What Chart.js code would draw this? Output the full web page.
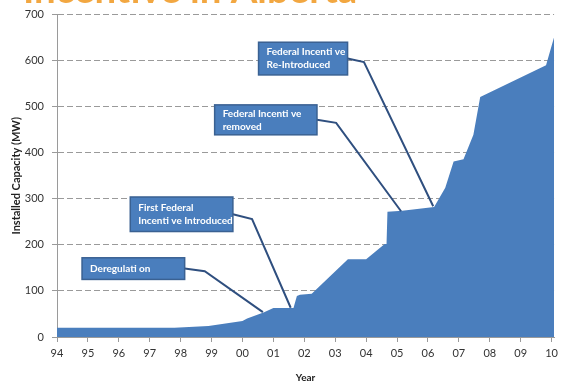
<!DOCTYPE html>
<html>
<head>
<meta charset="utf-8">
<script src="https://cdn.jsdelivr.net/npm/chart.js@4/dist/chart.umd.min.js"></script>
<style>
  html, body { margin: 0; padding: 0; background: #ffffff; }
  #wrap { position: relative; width: 563px; height: 386px; overflow: hidden; }
  canvas { display: block; }
</style>
</head>
<body>
<div id="wrap"><canvas id="chart" width="563" height="386"></canvas></div>
<script>
// Installed wind capacity in Alberta (MW) by year
const years = [1994, 1997.8, 1998.9, 2000.0, 2000.15, 2000.7, 2001.0, 2001.65, 2001.76, 2001.86,
               2002.24, 2003.41, 2004.0, 2004.6, 2004.66, 2004.69, 2005.17, 2006.2, 2006.56,
               2006.83, 2007.15, 2007.47, 2007.69, 2009.82, 2010.08];
const capacityMW = [20, 20, 24, 35, 40, 54, 63, 63, 89, 92,
                    94, 169, 169, 202, 202, 272, 274, 282, 324,
                    381, 386, 439, 521, 590, 651];

const tickYears = [1994, 1995, 1996, 1997, 1998, 1999, 2000, 2001, 2002,
                   2003, 2004, 2005, 2006, 2007, 2008, 2009, 2010];
const tickLabels = ['94', '95', '96', '97', '98', '99', '00', '01', '02',
                    '03', '04', '05', '06', '07', '08', '09', '10'];

const titleText = 'Incentive in Alberta';
const yTitle = 'Installed Capacity (MW)';
const xTitle = 'Year';

// Policy events: text lines, the point on the curve they refer to
const eventLines = [
  ['Deregulati on'],
  ['First Federal', 'Incenti ve Introduced'],
  ['Federal Incenti ve', 'removed'],
  ['Federal Incenti ve', 'Re-Introduced']
];
const eventYears = [2000.66, 2001.56, 2005.13, 2006.17];
const eventValues = [54, 63.5, 273, 284];

// Placement of each callout box (in axis units) and the elbow of its leader line
const calloutLayout = [
  { box: [1994.81, 1998.13, 172, 125], elbow: [1998.78, 143] },
  { box: [1996.37, 1999.69, 304, 229], elbow: [2000.31, 256] },
  { box: [1999.10, 2002.41, 504, 439], elbow: [2003.03, 465] },
  { box: [2000.52, 2003.40, 640, 569], elbow: [2003.93, 597] }
];

const AREA_BLUE = '#4A7EBD';
const FONT = 'Lato, "Open Sans", "DejaVu Sans", sans-serif';

const calloutPlugin = {
  id: 'callouts',
  afterDatasetsDraw(chart) {
    const { ctx, scales: { x, y } } = chart;
    ctx.save();
    calloutLayout.forEach((c, i) => {
      const bx0 = x.getPixelForValue(c.box[0]);
      const bx1 = x.getPixelForValue(c.box[1]);
      const by0 = y.getPixelForValue(c.box[2]);
      const by1 = y.getPixelForValue(c.box[3]);
      const midY = (by0 + by1) / 2;
      // leader line
      ctx.beginPath();
      ctx.moveTo(bx1, midY);
      ctx.lineTo(x.getPixelForValue(c.elbow[0]), y.getPixelForValue(c.elbow[1]));
      ctx.lineTo(x.getPixelForValue(eventYears[i]), y.getPixelForValue(eventValues[i]));
      ctx.strokeStyle = '#2F4F7F';
      ctx.lineWidth = 2;
      ctx.stroke();
      // box
      ctx.fillStyle = '#4A7EBD';
      ctx.fillRect(bx0, by0, bx1 - bx0, by1 - by0);
      ctx.strokeStyle = '#3A6192';
      ctx.lineWidth = 1.5;
      ctx.strokeRect(bx0, by0, bx1 - bx0, by1 - by0);
      // text
      const lines = eventLines[i];
      ctx.fillStyle = '#ffffff';
      ctx.font = 'bold 10px ' + FONT;
      ctx.textAlign = 'left';
      ctx.textBaseline = 'middle';
      const lh = 13;
      const startY = midY - (lines.length - 1) * lh / 2;
      lines.forEach((t, k) => ctx.fillText(t, bx0 + 8, startY + k * lh));
    });
    ctx.restore();
  },
  afterDraw(chart) {
    // heading, mostly cut off by the top edge
    const { ctx } = chart;
    ctx.save();
    ctx.font = 'bold 32px ' + FONT;
    const w = ctx.measureText(titleText).width;
    const size = 32 * 334 / w;
    ctx.font = 'bold ' + size.toFixed(1) + 'px ' + FONT;
    ctx.fillStyle = '#F2A741';
    ctx.textAlign = 'left';
    ctx.textBaseline = 'alphabetic';
    ctx.fillText(titleText, 23, 3);
    ctx.restore();
  }
};

new Chart(document.getElementById('chart'), {
  type: 'line',
  data: {
    datasets: [{
      data: years.map((yr, i) => ({ x: yr, y: capacityMW[i] })),
      fill: 'origin',
      backgroundColor: AREA_BLUE,
      borderWidth: 0,
      borderColor: AREA_BLUE,
      pointRadius: 0,
      tension: 0
    }]
  },
  options: {
    responsive: false,
    animation: false,
    layout: { padding: { top: 12, right: 3, left: 0, bottom: 0 } },
    plugins: { legend: { display: false }, tooltip: { enabled: false } },
    scales: {
      x: {
        type: 'linear',
        min: 1994,
        max: 2010.08,
        afterBuildTicks: (s) => { s.ticks = tickYears.map(v => ({ value: v })); },
        afterFit: (s) => { s.height = 49; },
        ticks: {
          autoSkip: false,
          maxRotation: 0,
          padding: 5,
          color: '#333333',
          font: { family: FONT, size: 11 },
          callback: (v) => { const k = tickYears.indexOf(v); return k >= 0 ? tickLabels[k] : ''; }
        },
        grid: { drawOnChartArea: false, drawTicks: true, tickLength: 5, color: '#9a9a9a' },
        border: { display: true, color: '#9a9a9a', width: 1 },
        title: { display: true, text: xTitle, color: '#222222', font: { family: FONT, size: 10, weight: 'bold' }, padding: { top: 4, bottom: 2 } }
      },
      y: {
        min: 0,
        max: 700,
        afterFit: (s) => { s.width = 57; },
        ticks: {
          stepSize: 100,
          padding: 8,
          color: '#333333',
          font: { family: FONT, size: 11 }
        },
        grid: { color: '#9a9a9a', lineWidth: 1, tickLength: 5, tickColor: '#9a9a9a', tickBorderDash: [] },
        border: { display: true, color: '#9a9a9a', width: 1, dash: [6, 3] },
        title: { display: true, text: yTitle, color: '#222222', font: { family: FONT, size: 11, weight: 'bold' }, padding: { top: 10, bottom: 4 } }
      }
    }
  },
  plugins: [calloutPlugin]
});
</script>
</body>
</html>
